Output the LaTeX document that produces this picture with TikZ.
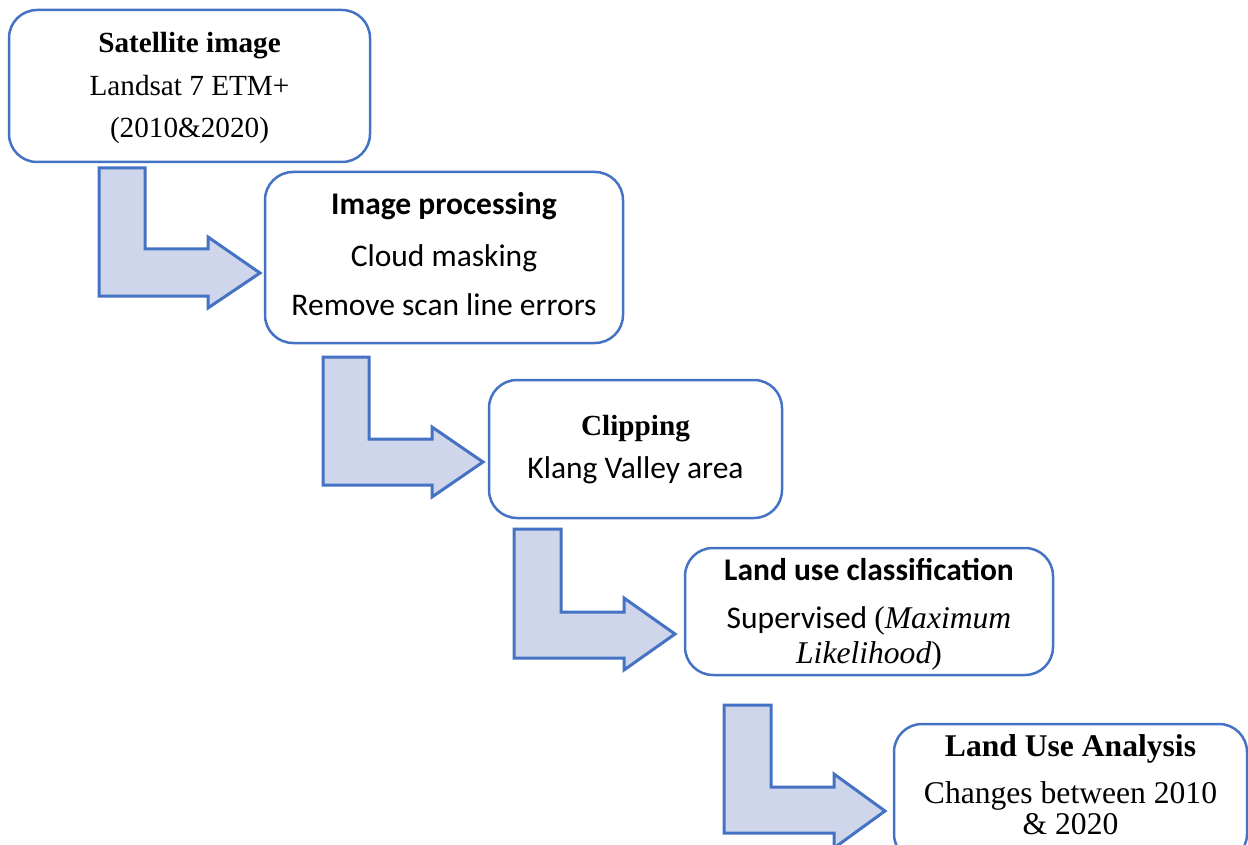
\documentclass[tikz,border=0pt]{standalone}
\usepackage{fontspec}
\newfontfamily\tmsfont{Liberation Serif}
\newfontfamily\calfont{Carlito}
\definecolor{boxline}{HTML}{4472C4}
\definecolor{arrowfill}{HTML}{CFD5EA}
\newcommand{\tmsz}{\tmsfont\fontsize{29.2}{35}\selectfont}
\newcommand{\tmsl}{\tmsfont\fontsize{31.6}{38}\selectfont}
\newcommand{\calsz}{\calfont\fontsize{31.5}{38}\selectfont}
\begin{document}
\begin{tikzpicture}[x=1pt,y=-1pt,
  flowbox/.style={draw=boxline, line width=2.5pt, rounded corners=28pt, inner sep=0pt, fill=white},
  txt/.style={anchor=base, inner sep=0pt, text=black},
  bentarrow/.style={draw=boxline, fill=arrowfill, line width=3pt, line join=miter}]
\useasboundingbox (0,0) rectangle (1248,845);
% boxes
\node[flowbox, minimum width=361pt, minimum height=152pt] (b1) at (189.5,86) {};
\node[flowbox, minimum width=358pt, minimum height=171pt] (b2) at (444,257.5) {};
\node[flowbox, minimum width=293pt, minimum height=138pt] (b3) at (635.5,449) {};
\node[flowbox, minimum width=368pt, minimum height=127pt] (b4) at (869,611.5) {};
\node[flowbox, minimum width=353pt, minimum height=138pt] (b5) at (1070.5,793) {};
% texts
\node[txt, font=\tmsz\bfseries] (t1a) at (b1.center |- 0,53) {Satellite image};
\node[txt, font=\tmsz] (t1b) at (b1.center |- 0,96) {Landsat 7 ETM+};
\node[txt, font=\tmsz] (t1c) at (b1.center |- 0,138) {(2010\&2020)};
\node[txt, font=\calsz\bfseries] (t2a) at (b2.center |- 0,215) {Image processing};
\node[txt, font=\calsz] (t2b) at (b2.center |- 0,266) {Cloud masking};
\node[txt, font=\calsz] (t2c) at (b2.center |- 0,315) {Remove scan line errors};
\node[txt, font=\tmsz\bfseries] (t3a) at (b3.center |- 0,435) {Clipping};
\node[txt, font=\calsz] (t3b) at (b3.center |- 0,478) {Klang Valley area};
\node[txt, font=\calsz\bfseries] (t4a) at (b4.center |- 0,580) {Land use classification};
\node[txt, font=\calsz] (t4b) at (b4.center |- 0,628) {Supervised {\tmsl(\itshape Maximum}};
\node[txt, font=\tmsl] (t4c) at (b4.center |- 0,663) {\itshape Likelihood\upshape)};
\node[txt, font=\tmsl\bfseries] (t5a) at (b5.center |- 0,756) {Land Use Analysis};
\node[txt, font=\tmsl] (t5b) at (b5.center |- 0,803) {Changes between 2010};
\node[txt, font=\tmsl] (t5c) at (b5.center |- 0,834) {\& 2020};
% bent arrows
\draw[bentarrow] (99,168) -- (145,168) -- (145,249) -- (208,249) -- (208,237) -- (260,273) -- (208,308) -- (208,296) -- (99,296) -- cycle;
\draw[bentarrow] (323,357) -- (369,357) -- (369,439) -- (432,439) -- (432,427) -- (483,462) -- (432,497) -- (432,485) -- (323,485) -- cycle;
\draw[bentarrow] (514,529) -- (561,529) -- (561,612) -- (624,612) -- (624,598) -- (675,634) -- (624,670) -- (624,658) -- (514,658) -- cycle;
\draw[bentarrow] (724,705) -- (771,705) -- (771,787) -- (834,787) -- (834,774) -- (885,811) -- (834,848) -- (834,833) -- (724,833) -- cycle;
\end{tikzpicture}
\end{document}
